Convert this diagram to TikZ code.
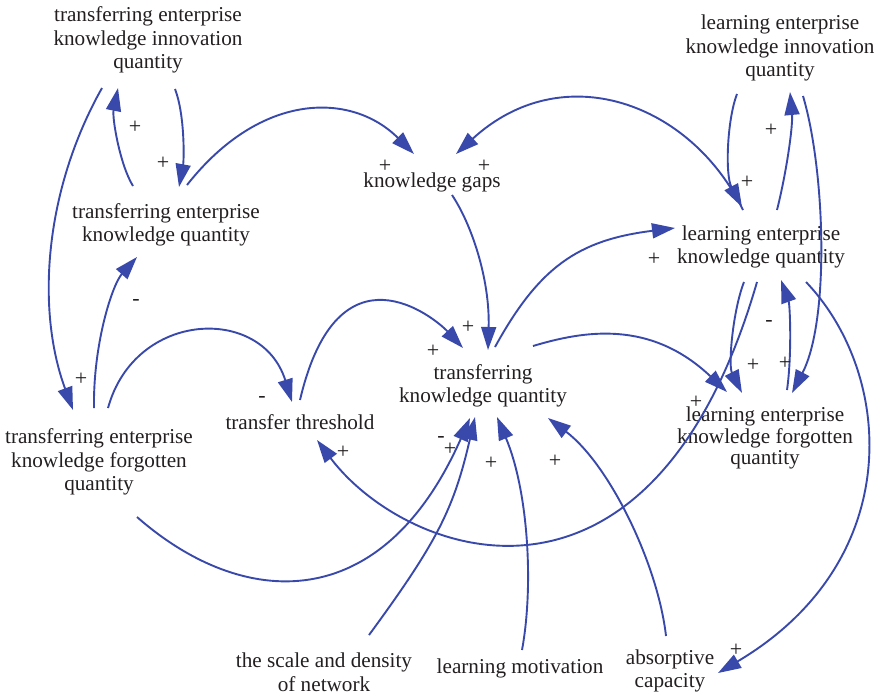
\documentclass[tikz,border=0pt]{standalone}
\usepackage{fontspec}
\setmainfont{Liberation Serif}
\usetikzlibrary{arrows.meta,calc}
\definecolor{linkblue}{RGB}{57,73,171}
\definecolor{inkgray}{RGB}{35,31,32}
\begin{document}
\begin{tikzpicture}[x=1pt,y=-1pt,
  var/.style={inner sep=0pt,align=center,text=inkgray,font=\fontsize{21.2}{23.5}\selectfont},
  sign/.style={inner sep=0pt,text=inkgray,font=\fontsize{22}{22}\selectfont},
  link/.style={draw=linkblue,line width=1.9pt,-{Triangle[length=23pt,width=15pt]}}]
\useasboundingbox (0,0) rectangle (880,694);

% variables
\node[var] (TEIQ) at (148,40) {transferring enterprise\\knowledge innovation\\quantity};
\node[var] (TEKQ) at (166,225) {transferring enterprise\\knowledge quantity};
\node[var] (KG)   at (432,182) {knowledge gaps};
\node[var] (LEIQ) at (780,48) {learning enterprise\\knowledge innovation\\quantity};
\node[var] (LEKQ) at (761,247) {learning enterprise\\knowledge quantity};
\node[var] (TKQ)  at (483,386) {transferring\\knowledge quantity};
\node[var] (TT)   at (300,422) {transfer threshold};
\node[var] (TEFQ) at (99,462) {transferring enterprise\\knowledge forgotten\\quantity};
\node[var,font=\fontsize{21.2}{21.5}\selectfont] (LEFQ) at (765,438) {learning enterprise\\knowledge forgotten\\quantity};
\node[var] (SDN)  at (324,672) {the scale and density\\of network};
\node[var] (LM)   at (520,668) {learning motivation};
\node[var] (AC)   at (670,671) {absorptive\\capacity};

% causal links
\draw[link] ($(TEKQ)+(-33,-39)$) .. controls (120,165) and (112,118) .. ($(TEIQ)+(-30,48)$);
\draw[link] ($(TEIQ)+(27,49)$) .. controls (185,115) and (184,160) .. ($(TEKQ)+(13,-38)$);
\draw[link] ($(TEKQ)+(21,-40)$) .. controls (261,91) and (352,92) .. ($(KG)+(-18,-28)$);
\draw[link] ($(LEKQ)+(-18,-37)$) .. controls (691,103) and (563,56) .. ($(KG)+(24,-28)$);
\draw[link] ($(LEKQ)+(16,-37)$) .. controls (787,170) and (793,125) .. ($(LEIQ)+(10,44)$);
\draw[link] ($(LEIQ)+(-43,46)$) .. controls (727,120) and (725,175) .. ($(LEKQ)+(-19,-40)$);
\draw[link] ($(LEIQ)+(23,48)$) .. controls (825,170) and (830,320) .. ($(LEFQ)+(27,-45)$);
\draw[link] ($(LEKQ)+(-17,35)$) .. controls (733,310) and (728,365) .. ($(LEFQ)+(-23,-45)$);
\draw[link] ($(LEFQ)+(22,-48)$) .. controls (792,355) and (790,305) .. ($(LEKQ)+(20,33)$);
\draw[link] ($(LEKQ)+(45,35)$) .. controls (894,374) and (907,561) .. ($(AC)+(48,2)$);
\draw[link] ($(TEFQ)+(-5,-54)$) .. controls (93,345) and (112,285) .. ($(TEKQ)+(-29,32)$);
\draw[link] ($(TEIQ)+(-46,48)$) .. controls (44,191) and (36,310) .. ($(TEFQ)+(-26,-52)$);
\draw[link] ($(TEFQ)+(9,-54)$) .. controls (135,310) and (262,305) .. ($(TT)+(-8,-20)$);
\draw[link] ($(TT)+(0,-22)$) .. controls (338,238) and (435,318) .. ($(TKQ)+(-20,-38)$);
\draw[link] ($(KG)+(20,13)$) .. controls (472,225) and (490,280) .. ($(TKQ)+(5,-36)$);
\draw[link] ($(TKQ)+(12,-39)$) .. controls (539,267) and (578,240) .. ($(LEKQ)+(-86,-19)$);
\draw[link] ($(TKQ)+(50,-40)$) .. controls (583,331) and (650,319) .. ($(LEFQ)+(-38,-46)$);
\draw[link] ($(TEFQ)+(38,55)$) .. controls (243,610) and (382,617) .. ($(TKQ)+(-13,32)$);
\draw[link] ($(SDN)+(45,-37)$) .. controls (438,541) and (454,508) .. ($(TKQ)+(-8,31)$);
\draw[link] ($(LM)+(2,-18)$) .. controls (534,585) and (528,490) .. ($(TKQ)+(14,31)$);
\draw[link] ($(AC)+(-4,-35)$) .. controls (658,565) and (610,465) .. ($(TKQ)+(65,32)$);
\draw[link] ($(LEKQ)+(-4,35)$) .. controls (651,648) and (405,557) .. ($(TT)+(17,18)$);

% link polarities
\node[sign] (s1)  at (135,127) {+};
\node[sign] (s2)  at (163,163) {+};
\node[sign] (s3)  at (385,166) {+};
\node[sign] (s4)  at (484,166) {+};
\node[sign] (s5)  at (747,182) {+};
\node[sign] (s6)  at (771,130) {+};
\node[sign] (s7)  at (654,259) {+};
\node[sign] (s8)  at (136,302) {-};
\node[sign] (s9)  at (81,379) {+};
\node[sign] (s10) at (262,399) {-};
\node[sign] (s11) at (433,351) {+};
\node[sign] (s12) at (468,327) {+};
\node[sign] (s13) at (769,323) {-};
\node[sign] (s14) at (753,365) {+};
\node[sign] (s15) at (785,363) {+};
\node[sign] (s16) at (696,402) {+};
\node[sign] (s17) at (343,452) {+};
\node[sign] (s18) at (441,439) {-};
\node[sign] (s19) at (450,449) {+};
\node[sign] (s20) at (491,463) {+};
\node[sign] (s21) at (555,461) {+};
\node[sign] (s22) at (736,650) {+};
\end{tikzpicture}
\end{document}
